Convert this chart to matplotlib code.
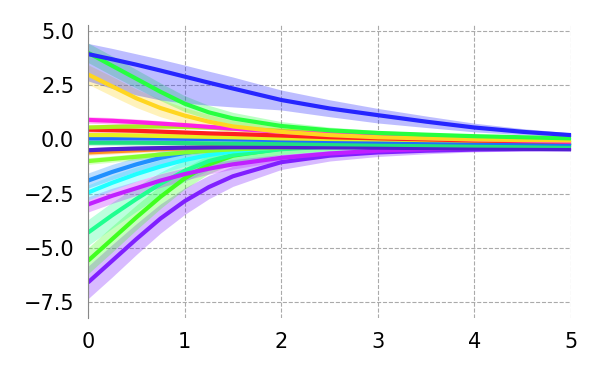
import matplotlib
matplotlib.use("Agg")
import matplotlib.pyplot as plt
import numpy as np

x = [0, 0.25, 0.5, 0.75, 1.0, 1.25, 1.5, 2.0, 2.5, 3.0, 3.5, 4.0, 4.5, 5.0]

# band half-width profile (relative to initial half-width)
band_profile = [1, 1, 0.95, 0.9, 0.82, 0.72, 0.62, 0.45, 0.33, 0.25, 0.19, 0.14, 0.11, 0.09]

violet = [-6.6, -5.6, -4.6, -3.65, -2.85, -2.2, -1.7, -1.05, -0.75, -0.6, -0.52, -0.47, -0.45, -0.45]
green2 = [-5.6, -4.6, -3.6, -2.65, -1.8, -1.15, -0.75, -0.42, -0.3, -0.25, -0.22, -0.2, -0.2, -0.2]
spring = [-4.3, -3.5, -2.75, -2.05, -1.45, -1.0, -0.72, -0.45, -0.33, -0.28, -0.25, -0.25, -0.25, -0.25]
purple = [-3.0, -2.6, -2.25, -1.9, -1.6, -1.35, -1.15, -0.85, -0.65, -0.52, -0.45, -0.4, -0.37, -0.35]
cyan = [-2.45, -2.0, -1.6, -1.25, -0.95, -0.72, -0.55, -0.35, -0.25, -0.2, -0.17, -0.15, -0.15, -0.15]
dodger = [-1.9, -1.5, -1.15, -0.85, -0.62, -0.48, -0.38, -0.27, -0.22, -0.2, -0.2, -0.2, -0.2, -0.2]
lgreen = [-1.0, -0.9, -0.8, -0.7, -0.6, -0.52, -0.46, -0.38, -0.33, -0.3, -0.3, -0.3, -0.3, -0.3]
orange = [-0.6, -0.55, -0.5, -0.45, -0.4, -0.36, -0.33, -0.3, -0.28, -0.27, -0.26, -0.25, -0.25, -0.25]
indigo = [-0.5, -0.45, -0.42, -0.4, -0.38, -0.37, -0.36, -0.36, -0.37, -0.38, -0.4, -0.42, -0.43, -0.45]
teal = [-0.15, -0.15, -0.15, -0.16, -0.17, -0.18, -0.19, -0.2, -0.22, -0.24, -0.26, -0.28, -0.29, -0.3]
azure = [0.05, 0.05, 0.05, 0.04, 0.03, 0.02, 0.0, -0.03, -0.07, -0.1, -0.12, -0.15, -0.17, -0.2]
yellow = [0.2, 0.2, 0.18, 0.16, 0.14, 0.12, 0.1, 0.05, 0.02, 0.0, -0.03, -0.05, -0.07, -0.08]
red = [0.45, 0.43, 0.4, 0.36, 0.32, 0.28, 0.25, 0.18, 0.1, 0.05, 0.0, -0.05, -0.08, -0.1]
ygreen = [0.55, 0.58, 0.6, 0.6, 0.58, 0.55, 0.5, 0.4, 0.3, 0.2, 0.1, 0.05, 0.0, -0.05]
magenta = [0.9, 0.86, 0.8, 0.73, 0.66, 0.58, 0.5, 0.35, 0.24, 0.15, 0.07, 0.0, -0.05, -0.1]
gold = [3.0, 2.45, 1.9, 1.45, 1.1, 0.82, 0.6, 0.35, 0.2, 0.1, 0.05, 0.0, -0.03, -0.05]
green1 = [4.0, 3.4, 2.8, 2.2, 1.65, 1.25, 0.97, 0.62, 0.42, 0.3, 0.22, 0.15, 0.1, 0.05]
blue = [3.94, 3.7, 3.45, 3.18, 2.9, 2.62, 2.35, 1.82, 1.43, 1.12, 0.82, 0.55, 0.35, 0.2]
blue_lo = [2.7, 2.35, 2.05, 1.82, 1.68, 1.58, 1.5, 1.36, 1.05, 0.76, 0.55, 0.35, 0.22, 0.12]
blue_hi = [4.43, 4.2, 3.95, 3.7, 3.43, 3.15, 2.88, 2.28, 1.83, 1.43, 1.08, 0.75, 0.5, 0.3]

series = [
    (violet, "#8020ff", 0.75),
    (green2, "#40ff20", 0.6),
    (spring, "#20ff90", 0.6),
    (purple, "#c020ff", 0.35),
    (cyan, "#20ffff", 0.35),
    (dodger, "#2090ff", 0.35),
    (lgreen, "#80ff30", 0.15),
    (orange, "#ff9020", 0.12),
    (indigo, "#5020d0", 0.12),
    (teal, "#20e080", 0.12),
    (azure, "#1f6fff", 0.12),
    (yellow, "#e8f020", 0.12),
    (red, "#ff2020", 0.12),
    (ygreen, "#a8f020", 0.12),
    (magenta, "#ff1fe6", 0.15),
    (gold, "#ffd620", 0.45),
    (green1, "#26ff40", 0.45),
    (blue, "#2626ff", None),
]

fig = plt.figure(figsize=(6, 3.75), dpi=100)
ax = fig.add_axes([0.1467, 0.152, 0.805, 0.7813])

xa = np.array(x)
prof = np.array(band_profile)
for vals, col, hw in series:
    v = np.array(vals)
    if hw is None:
        ax.fill_between(xa, blue_lo, blue_hi, color=col, alpha=0.3, lw=0)
    else:
        ax.fill_between(xa, v - hw * prof, v + hw * prof, color=col, alpha=0.3, lw=0)
for vals, col, hw in series:
    ax.plot(xa, vals, color=col, lw=3, solid_capstyle="butt")

ax.set_xlim(0, 5)
ax.set_ylim(-8.24, 5.28)
ax.set_xticks([0, 1, 2, 3, 4, 5])
ax.set_yticks([-7.5, -5.0, -2.5, 0.0, 2.5, 5.0])
ax.set_yticklabels(["\u22127.5", "\u22125.0", "\u22122.5", "0.0", "2.5", "5.0"])
ax.grid(True, color="#aaaaaa", linestyle="--", linewidth=0.8)
ax.set_axisbelow(True)
for s in ["top", "right", "bottom"]:
    ax.spines[s].set_visible(False)
ax.spines["left"].set_color("#888888")
ax.tick_params(axis="both", length=0, labelsize=15, pad=10)

fig.savefig("out.png", dpi=100)
